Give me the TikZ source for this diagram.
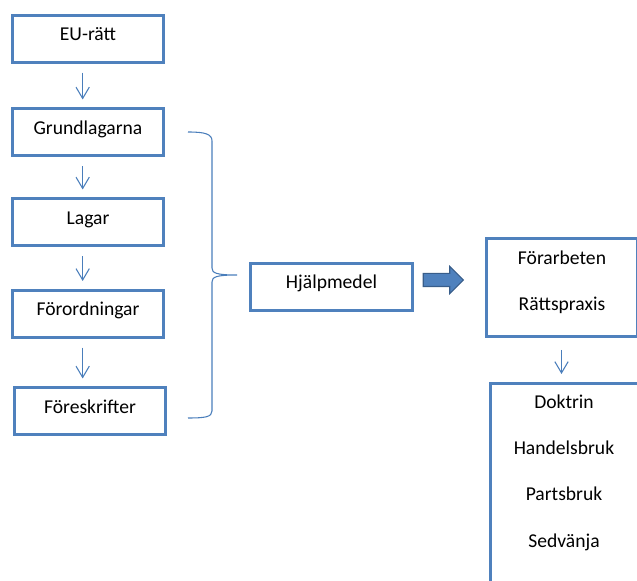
\documentclass[tikz,border=0pt]{standalone}
\usepackage{fontspec}
\setmainfont{Carlito}
\usetikzlibrary{arrows.meta,shapes.arrows}

\definecolor{ramblue}{RGB}{79,129,189}
\definecolor{pilblue}{RGB}{74,126,187}
\definecolor{morkblue}{RGB}{56,93,138}

\tikzset{
  ruta/.style={draw=ramblue, line width=2.25pt, minimum width=113.25pt, minimum height=35.25pt,
    inner sep=0pt, text height=0.75em, text depth=0.49em},
  etikett/.style={anchor=base, inner sep=0pt},
  pil/.style={draw=pilblue, line width=0.8pt, -{Straight Barb[length=8.5pt, width=10pt]},
    shorten <=6.5pt, shorten >=6pt},
  blockpil/.style={single arrow, fill=ramblue, draw=morkblue, line width=0.8pt,
    minimum width=19.5pt, minimum height=30pt, single arrow head extend=5.25pt,
    inner xsep=0pt, inner ysep=4.5pt}
}

\begin{document}
\begin{tikzpicture}[x=0.75pt, y=-0.75pt, font=\fontsize{14.7}{17}\selectfont]

\useasboundingbox (0,0) rectangle (637,581);
\clip (0,0) rectangle (637,581);

% vanster kolumn
\node (eu) at (88,39)[ruta] {EU-rätt};
\node (grund) at (88,132.5)[ruta] {Grundlagarna};
\node (lagar) at (88,222.5)[ruta] {Lagar};
\node (foror) at (88,314)[ruta] {Förordningar};
\node (fores) at (90,411.5)[ruta] {Föreskrifter};

\draw[pil] ([xshift=-4pt]eu.south) -- ([xshift=-4pt]grund.north);
\draw[pil] ([xshift=-4pt]grund.south) -- ([xshift=-4pt]lagar.north);
\draw[pil] ([xshift=-4pt]lagar.south) -- ([xshift=-4pt]foror.north);
\draw[pil] ([xshift=-4pt]foror.south) -- ([xshift=-4pt]foror.south |- fores.north);

% klammer
\coordinate (kltopp) at (188,132);
\coordinate (klspets) at (237,275);
\coordinate (klbotten) at (188,418);
\draw[pilblue, line width=0.8pt] (kltopp) .. controls (205,132) and (212,134) .. (212,141)
  -- (212,268) .. controls (212,273) and (216,275) .. (klspets)
  .. controls (216,275) and (212,277) .. (212,282)
  -- (212,411) .. controls (212,417) and (205,418) .. (klbotten);

% mitten
\node (hjalp) at (331.5,287)[ruta, minimum width=121.5pt] {Hjälpmedel};
\node (stor) at (440,280)[blockpil] {};

% hoger kolumn
\node (forar) at (561.5,287.5)[ruta, minimum height=73.5pt] {};
\node at (562,265)[etikett] {Förarbeten};
\node at (562,311)[etikett] {Rättspraxis};

\node (doktrin) at (566,501.5)[ruta, minimum height=177pt] {};
\node at (564,409)[etikett] {Doktrin};
\node at (564,455)[etikett] {Handelsbruk};
\node at (564,501)[etikett] {Partsbruk};
\node at (564,548)[etikett] {Sedvänja};

\draw[pil, shorten <=9pt] (forar.south) -- (forar.south |- doktrin.north);

\end{tikzpicture}
\end{document}
